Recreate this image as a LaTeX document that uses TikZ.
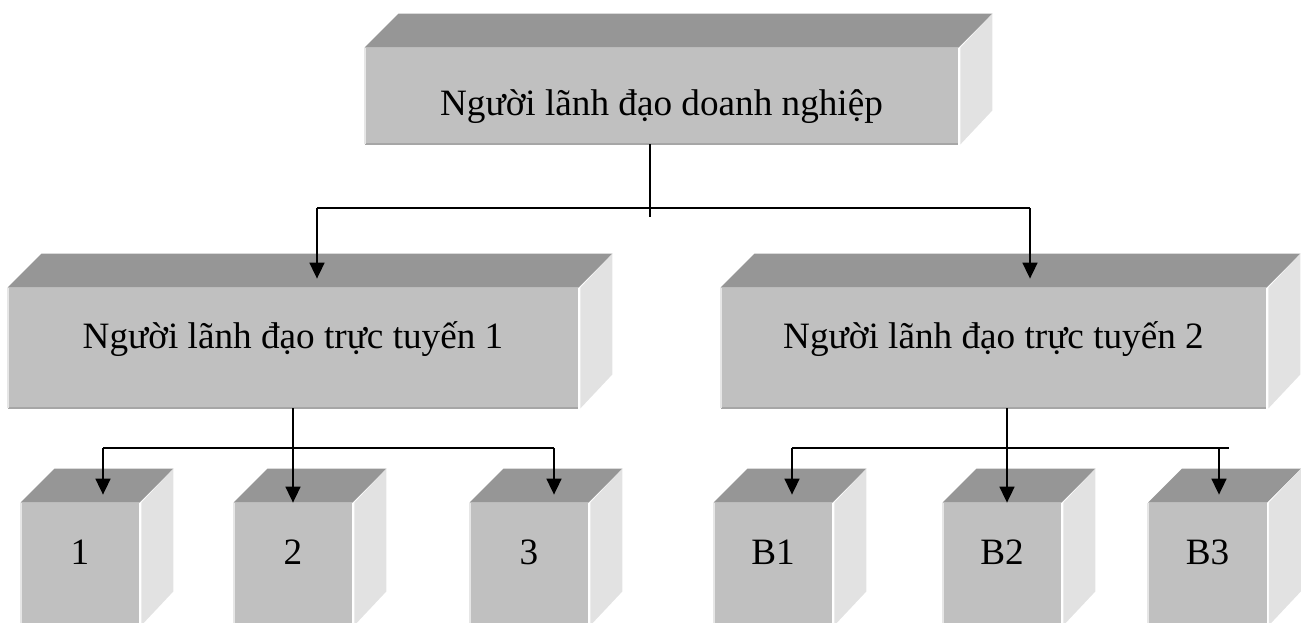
\documentclass[tikz,border=0pt]{standalone}
\usepackage{fontspec}
\setmainfont{Liberation Serif}
\usetikzlibrary{arrows.meta}

\definecolor{facetop}{HTML}{969696}
\definecolor{facefront}{HTML}{C0C0C0}
\definecolor{faceside}{HTML}{E2E2E2}
\definecolor{edgedark}{HTML}{A6A6A6}
\definecolor{edgelight}{HTML}{E6E6E6}

\tikzset{
  block/.style={fill=facefront, inner sep=0pt, text height=6pt, text depth=6pt,
    font=\fontsize{18.6}{22}\selectfont},
  wide/.style={block, minimum height=60pt},
  cube/.style={block, minimum width=59pt, minimum height=61pt},
  link/.style={line width=0.85pt},
  arr/.style={link, -{Triangle[length=8pt,width=7.5pt]}}
}

\begin{document}
\begin{tikzpicture}[x=0.5pt,y=-0.5pt]
      \useasboundingbox (0,0) rectangle (1306,622);
      \clip (0,0) rectangle (1306,622);

      % front faces
      \node[block, minimum width=296.5pt, minimum height=48pt,
            text height=19pt, text depth=0pt] (lead) at (661.5,96) {Người lãnh đạo doanh nghiệp};
      \node[wide, minimum width=285pt] (line1) at (293,348) {Người lãnh đạo trực tuyến 1};
      \node[wide, minimum width=272.5pt] (line2) at (993.5,348) {Người lãnh đạo trực tuyến 2};
      \node[cube] (u1) at (80,564) {1};
      \node[cube] (u2) at (293,564) {2};
      \node[cube] (u3) at (529,564) {3};
      \node[cube] (b1) at (773,564) {B1};
      \node[cube] (b2) at (1002,564) {B2};
      \node[cube] (b3) at (1207.5,564) {B3};

      % top and side faces
      \foreach \b in {lead,line1,line2,u1,u2,u3,b1,b2,b3} {
        \fill[facetop] (\b.north west) -- ++(17pt,17pt)
          -- ([shift={(17pt,17pt)}]\b.north east) -- (\b.north east) -- cycle;
        \fill[faceside] ([xshift=1pt]\b.north east) -- ++(16pt,17pt)
          -- ([shift={(17pt,17pt)}]\b.south east) -- ([xshift=1pt]\b.south east) -- cycle;
        \draw[edgedark, line width=1pt] (\b.south west) -- (\b.south east);
        \draw[edgelight, line width=1pt] (\b.south west) -- (\b.north west);
      }

      % junctions
      \coordinate (j0) at (650,208);
      \coordinate (l1) at (317,208);
      \coordinate (r1) at (1030,208);
      \coordinate (p1) at (103,448);
      \coordinate (p3) at (554,448);
      \coordinate (q1) at (792,448);
      \coordinate (q2) at (1007,448);
      \coordinate (q3) at (1219,448);

      \begin{scope}[link]
        \draw (lead.south -| j0) -- ([yshift=-4.5pt]j0);
        \draw (l1) -- (r1);
        \draw (p1) -- (p3);
        \draw (q1) -- ([xshift=5pt]q3);
      \end{scope}
      \begin{scope}[arr]
        \draw (l1) -- ([yshift=4.5pt]l1 |- line1.north);
        \draw (r1) -- ([yshift=4.5pt]r1 |- line2.north);
        \draw (line1.south) -- (u2.north);
        \draw (p1) -- ([yshift=4pt]p1 |- u1.north);
        \draw (p3) -- ([yshift=4pt]p3 |- u3.north);
        \draw (line2.south -| q2) -- (b2.north -| q2);
        \draw (q1) -- ([yshift=4pt]q1 |- b1.north);
        \draw (q3) -- ([yshift=4pt]q3 |- b3.north);
      \end{scope}
    \end{tikzpicture}
\end{document}
